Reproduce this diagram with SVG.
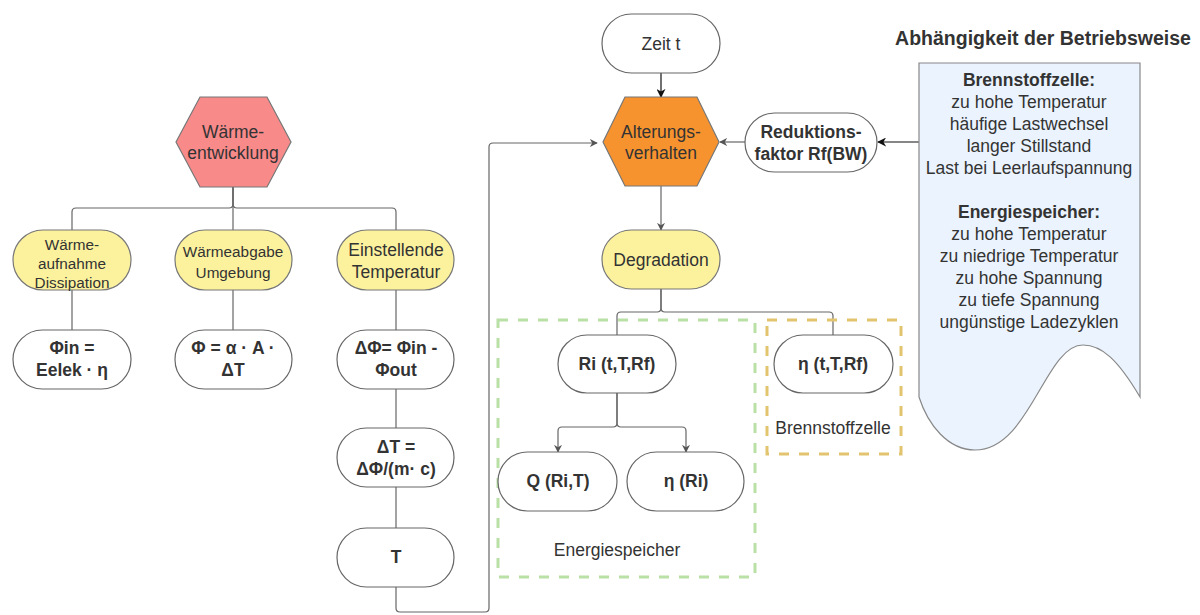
<svg xmlns="http://www.w3.org/2000/svg" width="1200" height="615" viewBox="0 0 1200 615">
  <defs>
    <marker id="arrGrey" viewBox="0 0 10 10" refX="9" refY="5" markerWidth="8" markerHeight="8" markerUnits="userSpaceOnUse" orient="auto">
      <path d="M0,0 L10,5 L0,10 L3,5 Z" fill="#555"/>
    </marker>
    <marker id="arrBlack" viewBox="0 0 10 10" refX="9" refY="5" markerWidth="9" markerHeight="9" markerUnits="userSpaceOnUse" orient="auto">
      <path d="M0,0 L10,5 L0,10 L3,5 Z" fill="#111"/>
    </marker>
    <style>
      text { font-family: "Liberation Sans", Arial, Helvetica, sans-serif; fill: #333; text-anchor: middle; }
      .m { font-size: 17.5px; }
      .s { font-size: 15.3px; }
      .title { font-size: 19.5px; font-weight: bold; }
      .b { font-weight: bold; }
      .pill { fill: #ffffff; stroke: #666; stroke-width: 1.2; }
      .ypill { fill: #FCF29E; stroke: #777; stroke-width: 1.2; }
      .edge { fill: none; stroke: #666; stroke-width: 1.2; }
      .edgeDark { fill: none; stroke: #111; stroke-width: 1.2; }
    </style>
  </defs>

  <!-- connectors -->
  <g id="connectors">
    <!-- heat development branches -->
    <path class="edge" d="M233,187 V204 Q233,208 229,208 H76 Q72,208 72,212 V230"/>
    <path class="edge" d="M233,187 V230"/>
    <path class="edge" d="M233,187 V204 Q233,208 237,208 H392 Q396,208 396,212 V230"/>
    <path class="edge" d="M72,290 V330"/>
    <path class="edge" d="M233,290 V330"/>
    <path class="edge" d="M396,290 V330"/>
    <path class="edge" d="M396,389 V428"/>
    <path class="edge" d="M396,487 V528"/>
    <!-- feedback loop T -> Alterungsverhalten -->
    <path class="edge" marker-end="url(#arrGrey)" d="M396,587 V608 Q396,612 400,612 H485 Q489,612 489,608 V147 Q489,143 493,143 H597"/>
    <!-- Zeit t -> Alterungsverhalten -->
    <path class="edgeDark" marker-end="url(#arrBlack)" d="M661,73 V97"/>
    <!-- Reduktionsfaktor -> Alterungsverhalten -->
    <path class="edge" marker-end="url(#arrGrey)" d="M745,142 H720"/>
    <!-- document -> Reduktionsfaktor -->
    <path class="edgeDark" marker-end="url(#arrBlack)" d="M919,142 H878"/>
    <!-- Alterungsverhalten -> Degradation -->
    <path class="edge" marker-end="url(#arrGrey)" d="M661,186 V230"/>
    <!-- Degradation branches -->
    <path class="edge" d="M661,289 V308 Q661,312 657,312 H621 Q617,312 617,316 V335"/>
    <path class="edge" d="M661,289 V308 Q661,312 665,312 H829 Q833,312 833,316 V335"/>
    <!-- Ri branches -->
    <path class="edge" marker-end="url(#arrGrey)" d="M617,393 V423 Q617,427 613,427 H562 Q558,427 558,431 V452"/>
    <path class="edge" marker-end="url(#arrGrey)" d="M617,393 V423 Q617,427 621,427 H682 Q686,427 686,431 V452"/>
  </g>

  <!-- group frames -->
  <g id="group-energiespeicher">
    <rect x="498" y="320" width="257" height="257" fill="none" stroke="#B9E0A5" stroke-width="3" stroke-dasharray="10,10"/>
    <text class="m" x="617" y="556">Energiespeicher</text>
  </g>
  <g id="group-brennstoffzelle">
    <rect x="767" y="320" width="134" height="134" fill="none" stroke="#E3C46E" stroke-width="3" stroke-dasharray="10,10"/>
    <text class="m" x="833" y="434">Brennstoffzelle</text>
  </g>

  <!-- heat development -->
  <g id="node-waermeentwicklung">
    <polygon points="200,97 267,97 291,142 267,187 200,187 176,142" fill="#F88A8A" stroke="#777" stroke-width="1.2"/>
    <text class="m" x="233" y="138">Wärme-</text>
    <text class="m" x="233" y="159">entwicklung</text>
  </g>
  <g id="node-waermeaufnahme">
    <rect class="ypill" x="13" y="230" width="118" height="60" rx="30"/>
    <text class="s" x="72" y="250">Wärme-</text>
    <text class="s" x="72" y="269">aufnahme</text>
    <text class="s" x="72" y="288">Dissipation</text>
  </g>
  <g id="node-waermeabgabe">
    <rect class="ypill" x="175" y="230" width="117" height="60" rx="30"/>
    <text class="s" x="233" y="257">Wärmeabgabe</text>
    <text class="s" x="233" y="278">Umgebung</text>
  </g>
  <g id="node-temperatur">
    <rect class="ypill" x="337" y="230" width="117" height="60" rx="30"/>
    <text class="m" x="396" y="256">Einstellende</text>
    <text class="m" x="396" y="278">Temperatur</text>
  </g>
  <g id="node-phi-in">
    <rect class="pill" x="13" y="330" width="118" height="59" rx="29.5"/>
    <text class="m b" x="72" y="354">Φin =</text>
    <text class="m b" x="72" y="376">Eelek · η</text>
  </g>
  <g id="node-phi">
    <rect class="pill" x="175" y="330" width="117" height="59" rx="29.5"/>
    <text class="m b" x="233" y="354">Φ = α · A ·</text>
    <text class="m b" x="233" y="376">ΔT</text>
  </g>
  <g id="node-delta-phi">
    <rect class="pill" x="337" y="330" width="117" height="59" rx="29.5"/>
    <text class="m b" x="396" y="354">ΔΦ= Φin -</text>
    <text class="m b" x="396" y="376">Φout</text>
  </g>
  <g id="node-delta-t">
    <rect class="pill" x="337" y="428" width="117" height="59" rx="29.5"/>
    <text class="m b" x="396" y="453">ΔT =</text>
    <text class="m b" x="396" y="475">ΔΦ/(m· c)</text>
  </g>
  <g id="node-t">
    <rect class="pill" x="337" y="528" width="117" height="59" rx="29.5"/>
    <text class="m b" x="396" y="563">T</text>
  </g>

  <!-- ageing -->
  <g id="node-zeit">
    <rect class="pill" x="602" y="14" width="118" height="59" rx="29.5"/>
    <text class="m" x="661" y="50">Zeit t</text>
  </g>
  <g id="node-alterungsverhalten">
    <polygon points="625,97 697,97 719,142 697,186 625,186 603,142" fill="#F7932F" stroke="#777" stroke-width="1.2"/>
    <text class="m" x="661" y="138">Alterungs-</text>
    <text class="m" x="661" y="159">verhalten</text>
  </g>
  <g id="node-reduktionsfaktor">
    <rect class="pill" x="745" y="113" width="132" height="59" rx="29.5"/>
    <text class="m b" x="811" y="138">Reduktions-</text>
    <text class="m b" x="811" y="160">faktor Rf(BW)</text>
  </g>
  <g id="node-degradation">
    <rect class="ypill" x="602" y="230" width="118" height="59" rx="29.5"/>
    <text class="m" x="661" y="266">Degradation</text>
  </g>
  <g id="node-ri">
    <rect class="pill" x="558" y="335" width="118" height="58" rx="29"/>
    <text class="m b" x="617" y="370">Ri (t,T,Rf)</text>
  </g>
  <g id="node-eta-bz">
    <rect class="pill" x="774" y="335" width="119" height="58" rx="29"/>
    <text class="m b" x="833" y="370">η (t,T,Rf)</text>
  </g>
  <g id="node-q">
    <rect class="pill" x="498" y="452" width="119" height="59" rx="29.5"/>
    <text class="m b" x="558" y="487">Q (Ri,T)</text>
  </g>
  <g id="node-eta-ri">
    <rect class="pill" x="627" y="452" width="117" height="59" rx="29.5"/>
    <text class="m b" x="686" y="487">η (Ri)</text>
  </g>

  <!-- operating mode document -->
  <g id="node-betriebsweise">
    <text class="title" x="1043" y="45">Abhängigkeit der Betriebsweise</text>
    <path d="M919,63 H1140 V397 C1118,360 1102,345 1083,345 C1045,345 1030,450 975,450 C948,450 928,425 919,397 Z" fill="#EBF3FE" stroke="#888" stroke-width="1.2"/>
    <text class="m b" x="1029" y="86">Brennstoffzelle:</text>
    <text class="m" x="1029" y="108">zu hohe Temperatur</text>
    <text class="m" x="1029" y="130">häufige Lastwechsel</text>
    <text class="m" x="1029" y="152">langer Stillstand</text>
    <text class="m" x="1029" y="174">Last bei Leerlaufspannung</text>
    <text class="m b" x="1029" y="218">Energiespeicher:</text>
    <text class="m" x="1029" y="240">zu hohe Temperatur</text>
    <text class="m" x="1029" y="262">zu niedrige Temperatur</text>
    <text class="m" x="1029" y="284">zu hohe Spannung</text>
    <text class="m" x="1029" y="306">zu tiefe Spannung</text>
    <text class="m" x="1029" y="328">ungünstige Ladezyklen</text>
  </g>
</svg>
